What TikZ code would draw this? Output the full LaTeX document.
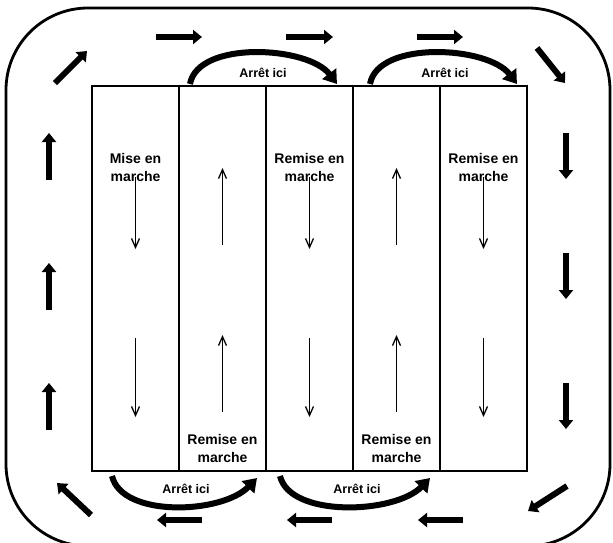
\documentclass[tikz,border=0pt]{standalone}
\usepackage{fontspec}
\setmainfont{Liberation Sans}
\usepackage{tikz}
\usetikzlibrary{arrows.meta, positioning}
\tikzset{every node/.style={font=\bfseries}}

\begin{document}
\begin{tikzpicture}[x=1pt, y=-1pt, node distance=0pt,
    colbox/.style={draw, line width=1.7pt, outer sep=0pt, inner sep=0pt, minimum width=87pt, minimum height=385pt},
    flowarrow/.style={line width=6pt, -{Triangle[length=9pt, width=14pt]}},
    thinarrow/.style={line width=1.3pt, -{Straight Barb[length=9pt, width=8pt]}},
    stoparc/.style={line width=6pt, -{Triangle[length=13pt, width=17pt]}},
    startlabel/.style={align=center, font=\bfseries\fontsize{14}{18}\selectfont},
    stoplabel/.style={font=\bfseries\fontsize{12.5}{15}\selectfont}]
  \useasboundingbox (0,0) rectangle (613,542);
  \clip (0,0) rectangle (613,542);
  % outer track
  \draw[line width=2.8pt, rounded corners=82pt] (6,8) rectangle (610,546);
  % the five lanes
  \node[colbox] (c1) at (135.5,278.5) {};
  \node[colbox, right=of c1] (c2) {};
  \node[colbox, right=of c2] (c3) {};
  \node[colbox, right=of c3] (c4) {};
  \node[colbox, right=of c4] (c5) {};
  \node[startlabel] (t1) at ([yshift=-81pt]c1.north) {Mise en\\marche};
  \node[startlabel] (t3) at ([yshift=-81pt]c3.north) {Remise en\\marche};
  \node[startlabel] (t5) at ([yshift=-81pt]c5.north) {Remise en\\marche};
  \node[startlabel] (b2) at ([yshift=22.5pt]c2.south) {Remise en\\marche};
  \node[startlabel] (b4) at ([yshift=22.5pt]c4.south) {Remise en\\marche};
  % lane directions
  \draw[thinarrow] ([yshift=-91pt]c1.north) -- ([yshift=-163pt]c1.north);
  \draw[thinarrow] ([yshift=-252pt]c1.north) -- ([yshift=-331pt]c1.north);
  \draw[thinarrow] ([yshift=-159pt]c2.north) -- ([yshift=-82pt]c2.north);
  \draw[thinarrow] ([yshift=-326pt]c2.north) -- ([yshift=-249pt]c2.north);
  \draw[thinarrow] ([yshift=-91pt]c3.north) -- ([yshift=-163pt]c3.north);
  \draw[thinarrow] ([yshift=-252pt]c3.north) -- ([yshift=-331pt]c3.north);
  \draw[thinarrow] ([yshift=-159pt]c4.north) -- ([yshift=-82pt]c4.north);
  \draw[thinarrow] ([yshift=-326pt]c4.north) -- ([yshift=-249pt]c4.north);
  \draw[thinarrow] ([yshift=-91pt]c5.north) -- ([yshift=-163pt]c5.north);
  \draw[thinarrow] ([yshift=-252pt]c5.north) -- ([yshift=-331pt]c5.north);
  % stops between lanes
  \draw[stoparc] (190,84) .. controls (198,40) and (308,46) .. (337,84);
  \draw[stoparc] (370,84) .. controls (378,40) and (488,46) .. (517,84);
  \draw[stoparc] (112,476) .. controls (122,518) and (222,514) .. (257,478);
  \draw[stoparc] (280,476) .. controls (290,518) and (395,514) .. (430,478);
  \node[stoplabel] (s1) at (263,73) {Arrêt ici};
  \node[stoplabel] (s2) at (445,73) {Arrêt ici};
  \node[stoplabel] (s3) at (186,489) {Arrêt ici};
  \node[stoplabel] (s4) at (357,489) {Arrêt ici};
  % flow round the track
  \draw[flowarrow] (156,37) -- (202,37);
  \draw[flowarrow] (286,37) -- (333,37);
  \draw[flowarrow] (417,37) -- (463,37);
  \draw[flowarrow] (537,48) -- (565,83);
  \draw[flowarrow] (566,133) -- (566,179);
  \draw[flowarrow] (566,253) -- (566,299);
  \draw[flowarrow] (566,383) -- (566,429);
  \draw[flowarrow] (567,486) -- (528,511);
  \draw[flowarrow] (202,520) -- (157,520);
  \draw[flowarrow] (332,520) -- (287,520);
  \draw[flowarrow] (463,520) -- (418,520);
  \draw[flowarrow] (91,515) -- (57,483);
  \draw[flowarrow] (49,430) -- (49,383);
  \draw[flowarrow] (49,310) -- (49,263);
  \draw[flowarrow] (49,180) -- (49,133);
  \draw[flowarrow] (55,83) -- (87,51);
\end{tikzpicture}
\end{document}
